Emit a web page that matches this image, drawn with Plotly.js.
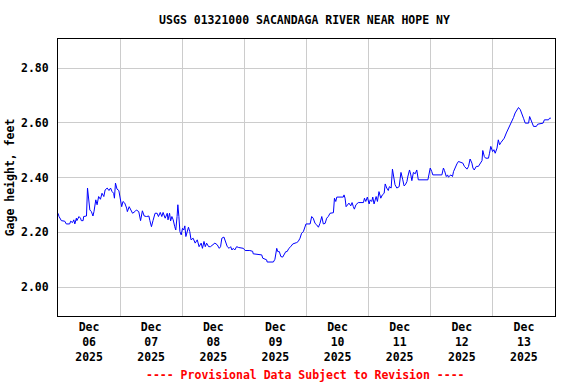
<!DOCTYPE html>
<html>
<head>
<meta charset="utf-8">
<script src="https://cdn.plot.ly/plotly-3.0.1.min.js"></script>
<style>html,body{margin:0;padding:0;background:#fff;}#chart{width:576px;height:384px;}</style>
</head>
<body>
<div id="chart"></div>
<script>
// Start of record: 2025-12-06 00:00 (local station time)
const startDate = "2025-12-06";
// Hours elapsed since start for each reading
const hours = [
0.0,0.4,1.3,2.6,3.2,4.5,4.9,5.6,6.1,6.5,7.1,7.3,8.1,8.7,9.0,9.7,9.9,11.0,11.4,11.9,
12.3,12.9,13.5,13.9,14.6,15.1,15.7,16.4,17.0,17.7,18.2,19.0,19.7,20.3,20.9,21.5,21.8,22.2,22.8,23.5,
24.1,24.6,25.1,25.8,26.5,26.8,27.5,28.0,28.8,29.7,30.3,31.2,31.9,32.6,33.3,34.2,35.1,35.5,36.1,36.7,
37.5,38.3,38.8,39.5,40.1,40.6,41.4,42.2,42.5,43.1,43.5,44.0,44.5,45.1,45.5,46.0,46.3,46.7,47.1,47.6,
48.1,48.6,49.0,49.4,49.9,50.4,50.9,51.4,52.2,53.0,53.8,54.5,55.3,55.8,56.4,56.9,57.4,58.2,58.9,59.7,
60.6,61.5,62.3,62.8,63.3,64.1,64.7,65.4,66.1,66.7,67.2,67.7,68.3,69.0,69.8,71.6,72.3,74.1,
75.2,75.4,78.7,79.1,80.6,80.8,83.2,83.8,84.5,84.9,85.5,86.1,86.8,87.4,88.0,88.5,89.2,89.9,90.7,92.2,
92.8,93.5,94.1,94.8,95.4,95.8,97.4,98.0,98.6,99.3,99.9,100.6,101.2,101.9,102.5,103.2,103.8,104.4,105.1,106.4,
106.8,107.3,107.7,110.2,110.5,110.9,111.3,111.9,112.4,113.1,113.6,114.1,114.5,115.1,116.0,118.0,118.4,118.9,119.5,120.2,
120.6,121.2,121.6,122.1,122.9,123.4,124.0,
124.7,125.3,126.0,126.4,127.0,127.6,128.0,128.7,129.2,129.6,130.2,130.9,131.8,132.2,132.5,133.2,133.7,134.2,134.8,135.1,
135.8,136.3,136.7,137.3,138.0,138.6,139.2,142.9,143.3,143.8,144.4,144.8,148.3,148.9,149.3,150.0,150.5,150.8,151.8,152.4,
152.8,153.4,154.1,154.7,155.6,156.4,157.0,158.0,158.6,159.2,159.9,160.3,160.8,161.6,162.4,163.1,163.8,164.1,164.7,165.2,
166.3,166.7,167.2,167.9,168.4,168.9,169.6,170.1,170.6,171.1,171.7,172.4,173.2,173.8,174.4,175.4,
176.0,176.6,177.3,177.9,178.6,179.2,179.9,180.5,181.8,182.2,182.7,183.2,183.7,184.8,185.3,187.4,187.9,189.5,189.9,190.4
];
// Gage height, feet
const gageHeight = [
2.270,2.258,2.243,2.241,2.231,2.231,2.241,2.236,2.246,2.231,2.252,2.243,2.258,2.252,2.243,2.243,2.258,2.260,2.362,2.325,
2.282,2.276,2.260,2.276,2.319,2.301,2.331,2.321,2.343,2.331,2.355,2.362,2.353,2.362,2.349,2.343,2.325,2.380,2.358,2.353,
2.313,2.294,2.313,2.307,2.289,2.276,2.294,2.285,2.270,2.276,2.282,2.276,2.243,2.279,2.260,2.258,2.260,2.243,2.221,2.243,
2.270,2.270,2.258,2.273,2.258,2.273,2.252,2.270,2.246,2.270,2.242,2.258,2.246,2.221,2.209,2.258,2.301,2.258,2.203,2.191,
2.215,2.209,2.224,2.185,2.209,2.219,2.203,2.173,2.179,2.161,2.173,2.148,2.161,2.142,2.167,2.148,2.161,2.148,2.148,2.155,
2.161,2.155,2.142,2.148,2.179,2.183,2.167,2.148,2.142,2.148,2.136,2.142,2.136,2.148,2.145,2.142,2.134,2.134,
2.131,2.122,2.118,2.106,2.100,2.092,2.092,2.102,2.142,2.130,2.130,2.112,2.110,2.122,2.130,2.130,2.142,2.148,2.158,2.163,
2.167,2.179,2.197,2.203,2.221,2.231,2.231,2.258,2.252,2.233,2.228,2.219,2.233,2.258,2.231,2.233,2.252,2.258,2.270,2.272,
2.325,2.313,2.329,2.329,2.337,2.325,2.294,2.304,2.307,2.297,2.309,2.294,2.285,2.301,2.309,2.309,2.325,2.313,2.329,2.304,
2.319,2.313,2.329,2.304,2.331,2.313,2.349,
2.325,2.337,2.343,2.377,2.362,2.353,2.367,2.362,2.431,2.410,2.374,2.362,2.367,2.398,2.419,2.392,2.370,2.374,2.386,2.402,
2.428,2.410,2.389,2.419,2.414,2.428,2.392,2.392,2.410,2.435,2.422,2.410,2.410,2.435,2.426,2.404,2.410,2.402,2.410,2.404,
2.422,2.438,2.450,2.459,2.455,2.453,2.441,2.431,2.441,2.468,2.453,2.435,2.428,2.441,2.441,2.453,2.462,2.499,2.477,2.471,
2.471,2.489,2.514,2.495,2.502,2.489,2.508,2.538,2.520,2.528,2.535,2.544,2.563,2.575,2.589,2.605,
2.620,2.636,2.648,2.656,2.648,2.629,2.615,2.599,2.599,2.623,2.611,2.595,2.587,2.587,2.595,2.599,2.611,2.611,2.617,2.617
];
const yTickVals = [2.0, 2.2, 2.4, 2.6, 2.8];
const chartTitle = "USGS 01321000 SACANDAGA RIVER NEAR HOPE NY";
const yTitle = "Gage height, feet";
const footNote = "---- Provisional Data Subject to Revision ----";

const t0 = Date.UTC(2025, 11, 6);
const xs = hours.map(h => t0 + Math.round(h * 3600000));

const FONT = "DejaVu Sans Mono, Liberation Mono, monospace";

const trace = {
  x: xs, y: gageHeight, type: "scatter", mode: "lines",
  line: {color: "#0000ff", width: 1}, hoverinfo: "skip"
};

const layout = {
  width: 576, height: 384,
  margin: {l: 58, r: 21, t: 39, b: 68, pad: 0},
  paper_bgcolor: "#ffffff", plot_bgcolor: "#ffffff",
  showlegend: false,
  font: {family: FONT, size: 11.5, color: "#000", weight: "bold"},
  title: {
    text: chartTitle, x: 0.496, xref: "paper", xanchor: "center",
    y: 1 - 20/384, yref: "container", yanchor: "middle",
    font: {family: FONT, size: 11.5, color: "#000", weight: "bold"}
  },
  xaxis: {
    type: "date",
    range: ["2025-12-06 00:00", "2025-12-14 00:00"],
    tick0: "2025-12-06", dtick: 86400000,
    ticklabelmode: "period",
    tickformat: "%b<br>%d<br>%Y",
    ticks: "", showgrid: true, gridcolor: "#cccccc", gridwidth: 1,
    showline: true, linecolor: "#000", linewidth: 1, mirror: true,
    zeroline: false, fixedrange: true,
    tickfont: {family: FONT, size: 11.5, color: "#000", weight: "bold"}
  },
  yaxis: {
    range: [1.895, 2.906],
    tickvals: yTickVals, tickformat: ".2f",
    ticks: "", ticklabelstandoff: 6,
    showgrid: true, gridcolor: "#cccccc", gridwidth: 1,
    showline: true, linecolor: "#000", linewidth: 1, mirror: true,
    zeroline: false, fixedrange: true,
    tickfont: {family: FONT, size: 11.5, color: "#000", weight: "bold"},
    title: {text: yTitle, standoff: 3, font: {family: FONT, size: 11.5, color: "#000", weight: "bold"}}
  },
  annotations: [{
    text: footNote, xref: "paper", yref: "paper", x: 0.497, y: (316 - 375) / 277,
    xanchor: "center", yanchor: "middle", showarrow: false,
    font: {family: FONT, size: 11.5, color: "#ff0000", weight: "bold"}
  }]
};

Plotly.newPlot("chart", [trace], layout, {staticPlot: true, displayModeBar: false});
</script>
</body>
</html>
